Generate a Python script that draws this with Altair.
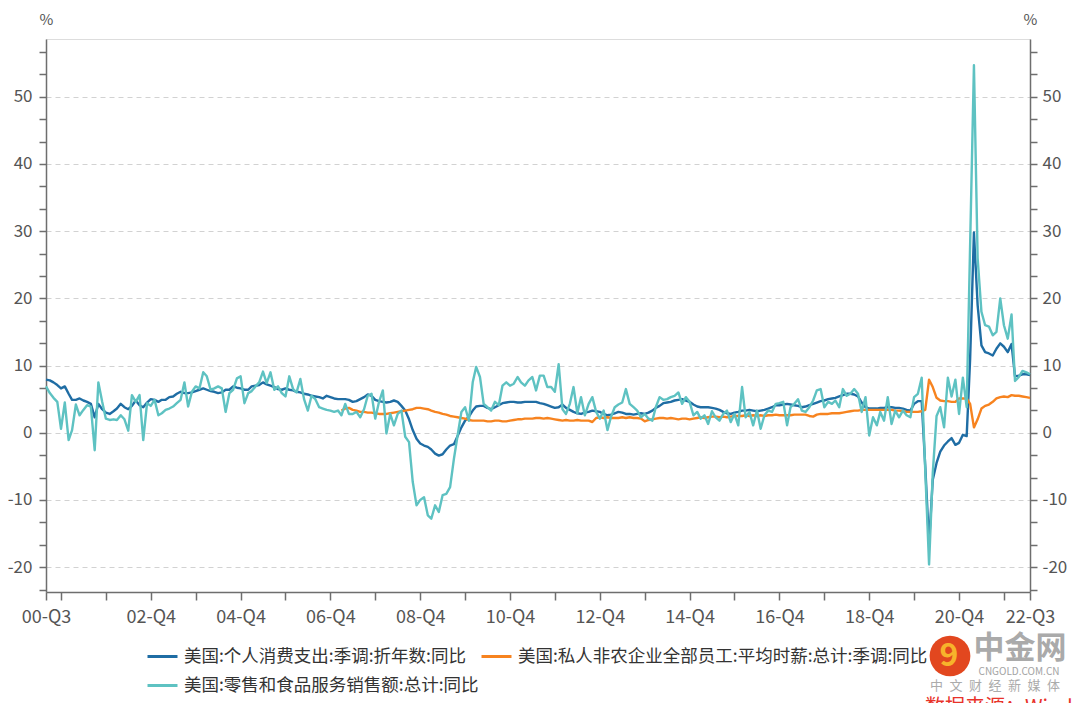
import altair as alt
import pandas as pd

# ---------------- data (monthly, 2000-08 .. 2022-07) ----------------
START = "2000-08-01"
N_MONTHS = 264

pce_yoy = [
    7.9, 7.8, 7.5, 7.1, 6.6, 6.9, 5.8, 4.9, 4.9, 5.1,
    4.8, 4.6, 4.3, 2.3, 4.3, 3.5, 3.0, 2.8, 3.2, 3.6,
    4.3, 3.8, 3.5, 4.0, 4.8, 4.1, 3.8, 4.5, 5.0, 4.9,
    4.6, 4.9, 4.9, 5.3, 5.4, 5.8, 6.1, 5.9, 5.9, 6.0,
    6.2, 6.4, 6.6, 6.4, 6.2, 6.1, 5.9, 6.0, 6.4, 6.4,
    6.9, 6.7, 6.6, 6.4, 6.4, 6.9, 7.0, 7.1, 7.5, 7.2,
    7.0, 6.8, 6.5, 6.4, 6.6, 6.4, 6.3, 6.1, 6.0, 5.8,
    5.7, 5.5, 5.4, 5.3, 5.1, 5.5, 5.3, 5.1, 5.0, 5.0,
    5.0, 4.9, 4.6, 4.7, 5.0, 5.3, 5.7, 5.5, 4.9, 4.7,
    4.6, 4.5, 4.6, 4.8, 4.6, 4.0, 3.3, 2.0, 0.4, -0.9,
    -1.6, -1.9, -2.1, -2.5, -3.1, -3.4, -3.2, -2.5, -1.9, -1.7,
    -0.5, 0.8, 1.8, 2.4, 3.3, 3.9, 4.0, 4.0, 3.7, 3.5,
    3.8, 4.1, 4.4, 4.5, 4.6, 4.6, 4.5, 4.5, 4.6, 4.6,
    4.6, 4.6, 4.4, 4.3, 4.1, 3.9, 3.7, 3.8, 4.2, 3.7,
    3.4, 3.1, 2.9, 2.8, 3.0, 3.1, 3.3, 3.2, 3.1, 2.8,
    2.6, 2.7, 2.9, 3.1, 3.0, 2.8, 2.8, 2.7, 2.8, 2.9,
    2.8, 3.0, 3.3, 3.7, 4.0, 4.4, 4.5, 4.6, 4.8, 4.9,
    5.0, 4.8, 4.6, 4.2, 3.9, 3.8, 3.8, 3.8, 3.7, 3.6,
    3.4, 3.1, 2.9, 2.8, 3.0, 3.1, 3.3, 3.3, 3.4, 3.3,
    3.2, 3.3, 3.4, 3.6, 3.8, 4.1, 4.1, 4.2, 4.3, 4.2,
    4.1, 4.0, 3.8, 3.9, 4.1, 4.3, 4.5, 4.7, 4.8, 5.0,
    5.1, 5.2, 5.4, 5.6, 5.8, 5.8, 5.7, 5.4, 4.5, 3.8,
    3.6, 3.6, 3.6, 3.7, 3.7, 3.8, 3.8, 3.7, 3.7, 3.6,
    3.4, 3.3, 4.3, 4.7, 4.7, -5.0, -16.5, -7.0, -4.5, -2.8,
    -1.9, -1.3, -0.8, -1.8, -1.5, -0.3, -0.5, 11.0, 29.8, 19.0,
    13.0, 12.0, 11.8, 11.5, 12.5, 13.3, 12.8, 12.0, 13.2, 8.4,
    8.5, 8.7, 8.7, 8.6,
]

retail_yoy = [
    6.9, 5.9, 5.2, 4.6, 0.6, 4.5, -1.1, 0.4, 4.2, 2.6,
    3.4, 4.1, 3.9, -2.6, 7.5, 4.6, 2.1, 1.9, 2.0, 1.9,
    2.6, 2.0, 0.3, 5.6, 4.6, 5.6, -1.1, 4.4, 4.0, 4.9,
    2.6, 2.9, 3.4, 3.6, 3.9, 4.4, 4.9, 7.5, 3.9, 6.1,
    6.9, 6.6, 9.0, 8.4, 6.4, 6.6, 6.9, 6.6, 3.1, 5.9,
    6.4, 8.1, 8.4, 4.4, 5.9, 6.2, 6.9, 7.5, 9.1, 7.4,
    9.0, 6.4, 6.9, 5.9, 5.4, 8.4, 6.5, 6.0, 8.0, 5.0,
    3.3, 5.5, 5.0, 3.8, 3.6, 3.4, 3.3, 3.1, 3.3, 2.6,
    4.3, 2.8, 2.8, 3.1, 2.3, 3.5, 5.5, 5.8, 2.1, 4.6,
    6.3, -0.1, 2.8, 1.1, 2.8, 3.3, -0.6, -1.4, -7.3, -10.8,
    -10.0, -9.6, -12.3, -12.8, -10.8, -11.8, -9.3, -9.1, -8.1, -3.9,
    -0.4, 3.1, 3.8, 1.8, 7.5, 9.8, 8.3, 4.3, 3.8, 3.3,
    4.6, 4.1, 7.0, 7.5, 7.0, 7.3, 8.3, 7.5, 7.0, 7.8,
    8.3, 6.3, 8.5, 8.5, 6.8, 6.8, 6.1, 10.2, 3.5, 2.8,
    4.3, 6.8, 2.9, 5.3, 2.6, 4.3, 5.3, 3.1, 2.1, 3.3,
    0.4, 2.3, 3.8, 4.2, 4.5, 6.5, 4.3, 3.8, 3.3, 2.3,
    2.8, 2.1, 1.8, 3.8, 5.3, 4.9, 5.0, 5.3, 5.5, 6.0,
    4.3, 5.3, 4.6, 2.6, 3.1, 2.1, 2.6, 1.3, 3.2, 2.3,
    1.8, 2.8, 3.3, 1.6, 2.8, 1.1, 6.8, 2.3, 3.1, 1.1,
    3.3, 0.6, 2.6, 3.3, 3.1, 4.3, 4.4, 4.6, 1.1, 3.8,
    4.3, 5.0, 3.3, 3.1, 3.8, 4.8, 6.3, 6.5, 3.8, 4.6,
    4.3, 4.8, 3.8, 6.5, 5.5, 5.8, 6.5, 5.8, 3.1, 5.3,
    -0.4, 2.3, 1.1, 3.1, 1.8, 5.3, 1.3, 3.3, 2.3, 3.3,
    2.6, 2.3, 5.3, 5.8, 8.2, -5.6, -19.6, -6.0, 2.5, 3.8,
    0.8, 8.2, 5.4, 7.9, 2.8, 8.2, 3.8, 28.0, 54.7, 26.0,
    18.0, 16.0, 15.8, 14.5, 15.0, 20.0, 16.0, 14.0, 17.6, 7.7,
    8.3, 9.2, 9.0, 8.7,
]

# average hourly earnings YoY, first value 2007-03 (month index 79)
WAGE_START = 79
wage_yoy = [
    3.3,
    3.6, 3.7, 3.4, 3.3, 3.1, 3.1, 3.0, 3.0, 2.9, 2.8,
    2.8, 2.8, 2.9, 3.0, 3.1, 3.2, 3.3, 3.4, 3.5, 3.7,
    3.7, 3.6, 3.5, 3.3, 3.1, 3.0, 2.8, 2.7, 2.5, 2.4,
    2.3, 2.2, 2.1, 1.9, 1.8, 1.8, 1.8, 1.8, 1.7, 1.7,
    1.8, 1.8, 1.7, 1.7, 1.8, 1.9, 2.0, 2.0, 2.1, 2.1,
    2.1, 2.2, 2.2, 2.1, 2.2, 2.1, 2.0, 1.9, 1.8, 1.9,
    1.8, 1.8, 1.9, 1.8, 1.8, 1.8, 1.6, 2.2, 2.3, 2.2,
    2.3, 2.2, 2.2, 2.2, 2.3, 2.2, 2.3, 2.2, 2.2, 2.1,
    1.7, 1.9, 2.0, 2.1, 2.2, 2.2, 2.1, 2.2, 2.1, 2.0,
    2.1, 2.1, 2.0, 2.1, 2.2, 2.3, 2.2, 2.3, 2.4, 2.4,
    2.3, 2.4, 2.3, 2.4, 2.5, 2.5, 2.5, 2.6, 2.5, 2.6,
    2.5, 2.6, 2.5, 2.6, 2.6, 2.7, 2.6, 2.6, 2.6, 2.6,
    2.7, 2.7, 2.7, 2.7, 2.5, 2.4, 2.7, 2.8, 2.8, 2.8,
    2.9, 2.9, 2.9, 3.0, 3.1, 3.2, 3.3, 3.3, 3.4, 3.4,
    3.4, 3.4, 3.4, 3.4, 3.4, 3.4, 3.4, 3.3, 3.3, 3.2,
    3.1, 3.1, 3.1, 3.1, 3.2, 3.4, 7.9, 6.8, 5.2, 4.8,
    4.7, 4.7, 4.6, 4.6, 5.1, 5.1, 5.1, 4.3, 0.8, 2.0,
    3.6, 4.0, 4.2, 4.6, 5.1, 5.3, 5.4, 5.3, 5.6, 5.5,
    5.5, 5.4, 5.3, 5.2,
]

S1 = "美国:个人消费支出:季调:折年数:同比"
S2 = "美国:私人非农企业全部员工:平均时薪:总计:季调:同比"
S3 = "美国:零售和食品服务销售额:总计:同比"
SERIES = [S1, S2, S3]
COLORS = ["#1f6da4", "#f7831f", "#5ec2c2"]

assert len(pce_yoy) == N_MONTHS and len(retail_yoy) == N_MONTHS
assert WAGE_START + len(wage_yoy) == N_MONTHS

months = pd.date_range(START, periods=N_MONTHS, freq="MS").strftime("%Y-%m-%d").tolist()

rows = []
for d, v in zip(months, pce_yoy):
    rows.append({"date": d, "series": S1, "value": v})
for d, v in zip(months[WAGE_START:], wage_yoy):
    rows.append({"date": d, "series": S2, "value": v})
for d, v in zip(months, retail_yoy):
    rows.append({"date": d, "series": S3, "value": v})
df = pd.DataFrame(rows)

# ---------------- axes ----------------
x_ticks = ([alt.DateTime(year=2000, month=8, date=1, utc=True)]
           + [alt.DateTime(year=y, month=12, date=1, utc=True) for y in range(2000, 2022)]
           + [alt.DateTime(year=2022, month=7, date=1, utc=True)])
x_label_expr = ("utcmonth(datum.value) != 11 ? utcFormat(datum.value, '%y') + '-Q3' : "
                "((utcyear(datum.value) % 2 == 0 && utcyear(datum.value) > 2000) ? "
                "utcFormat(datum.value, '%y') + '-Q4' : '')")

y_ticks = [round((k - 7) * 10 / 3, 4) for k in range(25)]
y_label_expr = "abs(datum.value % 10) < 0.01 ? '' + datum.value : ''"
Y_DOMAIN = [-23.7, 58.6]

FONT = "Noto Sans CJK SC"
AX = "#6e6e6e"
LAB = "#555555"

x_enc = alt.X(
    "date:T",
    scale=alt.Scale(type="utc",
                    domain=[alt.DateTime(year=2000, month=8, date=1, utc=True),
                            alt.DateTime(year=2022, month=7, date=1, utc=True)]),
    axis=alt.Axis(values=x_ticks, labelExpr=x_label_expr, title=None, grid=False,
                  labelFlush=False, labelOverlap=False, tickSize=8, tickColor=AX,
                  domainColor=AX, domainWidth=1.5, tickWidth=1.5, labelPadding=8,
                  labelFontSize=18, labelColor=LAB, labelFont=FONT),
)

left_axis = alt.Axis(
    orient="left", values=y_ticks, labelExpr=y_label_expr, title="%",
    titleAngle=0, titleX=0, titleY=-20, titleAlign="center", titleBaseline="middle",
    titleFontWeight="normal", titleFontSize=15, titleColor=LAB, titleFont=FONT,
    grid=True, gridDash=[5, 4], gridColor="#d2d2d2", gridWidth=1,
    gridOpacity={"condition": {"test": "abs(datum.value % 10) < 0.01", "value": 1}, "value": 0},
    tickSize=7, tickColor=AX, tickWidth=1.5, domainColor=AX, domainWidth=1.5,
    labelFontSize=17, labelColor=LAB, labelFont=FONT, labelPadding=7,
)
right_axis = alt.Axis(
    orient="right", values=y_ticks, labelExpr=y_label_expr, title="%",
    titleAngle=0, titleX=0, titleY=-20, titleAlign="center", titleBaseline="middle",
    titleFontWeight="normal", titleFontSize=15, titleColor=LAB, titleFont=FONT,
    grid=False, tickSize=7, tickColor=AX, tickWidth=1.5, domainColor=AX, domainWidth=1.5,
    labelFontSize=17, labelColor=LAB, labelFont=FONT, labelPadding=5,
)

y_scale = alt.Scale(domain=Y_DOMAIN, nice=False, zero=False)
color_enc = alt.Color(
    "series:N",
    scale=alt.Scale(domain=SERIES, range=COLORS),
    legend=alt.Legend(
        orient="none", legendX=100, legendY=601, columns=2, direction="horizontal",
        title=None, symbolType="stroke", symbolStrokeWidth=3, symbolSize=900,
        labelFontSize=17.5, labelFont=FONT, labelColor="#333333", labelLimit=600,
        labelOffset=5, columnPadding=-4, rowPadding=4,
    ),
)


def series_layer(name):
    return alt.Chart(df).transform_filter(
        alt.datum.series == name
    ).mark_line(strokeWidth=2.4, strokeJoin="round").encode(
        x=x_enc,
        y=alt.Y("value:Q", scale=y_scale, axis=left_axis),
        color=color_enc,
    )


lines = alt.layer(*[series_layer(s) for s in SERIES])

right = alt.Chart(df).mark_line(opacity=0).encode(
    x=x_enc,
    y=alt.Y("value:Q", scale=y_scale, axis=right_axis),
    detail="series:N",
)

# ---------------- watermark ----------------
def label(txt, x, y, size, color, weight="normal", align="center", baseline="middle"):
    return alt.Chart(pd.DataFrame({"t": [txt]})).mark_text(
        font=FONT, fontSize=size, color=color, fontWeight=weight,
        align=align, baseline=baseline,
    ).encode(x=alt.value(x), y=alt.value(y), text="t:N")

logo = alt.Chart(pd.DataFrame({"t": ["logo"]})).mark_circle(
    size=1660, color="#e2471f", opacity=1
).encode(x=alt.value(904), y=alt.value(617))

wm = [
    logo,
    label("9", 903, 617, 32, "#f7b32b", weight="bold"),
    label("中金网", 974, 610, 31, "#aaaaaa", weight="bold"),
    label("CNGOLD.COM.CN", 973, 633, 10, "#a3a3a3"),
    label("中\u2002文\u2002财\u2002经\u2002新\u2002媒\u2002体", 949, 647, 13, "#ababab"),
    label("数据来源：Wind", 879, 659, 20, "#e8332a", align="left", baseline="top"),
]

chart = alt.layer(lines, right, *wm).resolve_scale(y="independent").resolve_axis(
    y="independent"
).properties(
    width=984, height=553,
    padding={"left": 38, "top": 31, "right": 42, "bottom": 111},
    autosize=alt.AutoSizeParams(type="none"),
).configure_view(stroke=None).configure(background="white")

chart.save("out.html", embed_options={"renderer": "svg", "actions": False})
